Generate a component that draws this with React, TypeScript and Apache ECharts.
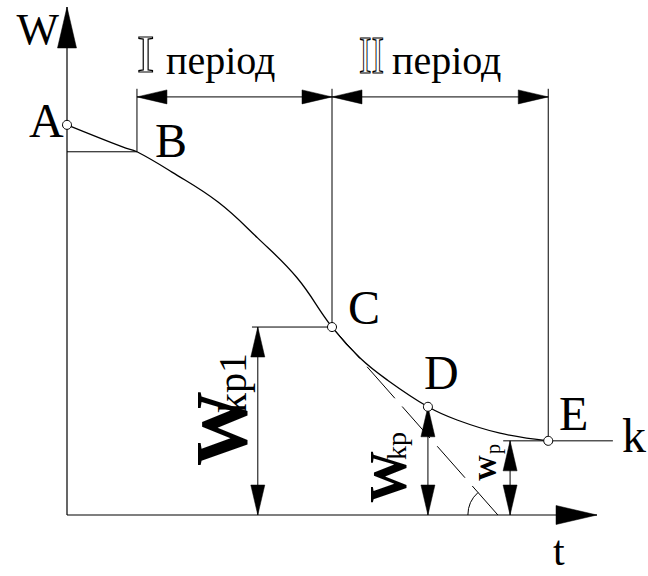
import React, { useEffect, useRef } from 'react';
import * as echarts from 'echarts';

// ---- data (t = time, W = moisture content; arbitrary units) ----
const T_MAX = 10;
const W_MAX = 10;

// drying curve A - B - C - D - E
const curveT = [0, 1.06, 1.32, 1.98, 2.85, 3.6, 4.34, 5.0, 5.53, 6.04, 6.81, 7.36, 8.17, 9.08];
const curveW = [7.68, 7.24, 7.15, 6.75, 6.16, 5.45, 4.67, 3.7, 3.09, 2.66, 2.13, 1.87, 1.61, 1.46];

// marked points (circles)
const pointNames = ['A', 'C', 'D', 'E'];
const pointT = [0, 5.0, 6.81, 9.08];
const pointW = [7.68, 3.7, 2.13, 1.46];

// dimension lines with arrows at both ends: [t1, W1, t2, W2]
const dimensionSegments = [
  [1.32, 8.23, 5.0, 8.23], // I period
  [5.0, 8.23, 9.08, 8.23], // II period
  [3.6, 3.7, 3.6, 0], // Wkp1
  [6.81, 2.13, 6.81, 0], // Wkp
  [8.36, 1.46, 8.36, 0], // Wp
];

// plain extension lines: [t1, W1, t2, W2]
const extensionSegments = [
  [1.32, 7.15, 1.32, 8.39],
  [5.0, 3.7, 5.0, 8.39],
  [9.08, 1.46, 9.08, 8.39],
  [0, 7.15, 1.32, 7.15],
  [3.49, 3.7, 5.0, 3.7],
  [8.23, 1.46, 9.08, 1.46],
  [9.08, 1.46, 10.3, 1.46],
];

// axes with arrow at the far end
const axisSegments = [
  [0, 0, T_MAX, 0],
  [0, 0, 0, W_MAX],
];

// tangent at C, reaching the t axis
const tangentSegments = [[5.0, 3.7, 8.13, 0]];

const SERIF = 'Liberation Serif, Times New Roman, DejaVu Serif, Noto Serif, serif';

function arrowHead(tip: number[], from: number[], len: number, hw: number) {
  const dx = tip[0] - from[0];
  const dy = tip[1] - from[1];
  const L = Math.hypot(dx, dy) || 1;
  const ux = dx / L;
  const uy = dy / L;
  const bx = tip[0] - ux * len;
  const by = tip[1] - uy * len;
  return [
    [tip[0], tip[1]],
    [bx - uy * hw, by + ux * hw],
    [bx + uy * hw, by - ux * hw],
  ];
}

function segmentSeries(
  name: string,
  data: number[][],
  opts: { startArrow?: boolean; endArrow?: boolean; len?: number; hw?: number; dash?: number[]; width?: number; z?: number }
) {
  return {
    type: 'custom',
    name,
    coordinateSystem: 'cartesian2d',
    clip: false,
    z: opts.z ?? 2,
    encode: { x: [0, 2], y: [1, 3] },
    data,
    renderItem: (params: any, api: any) => {
      const p1 = api.coord([api.value(0), api.value(1)]);
      const p2 = api.coord([api.value(2), api.value(3)]);
      const children: any[] = [
        {
          type: 'line',
          shape: { x1: p1[0], y1: p1[1], x2: p2[0], y2: p2[1] },
          style: {
            stroke: '#000',
            lineWidth: opts.width ?? 1,
            lineDash: opts.dash,
            fill: null,
          },
        },
      ];
      const len = opts.len ?? 30;
      const hw = opts.hw ?? 7;
      if (opts.startArrow) {
        children.push({ type: 'polygon', shape: { points: arrowHead(p1, p2, len, hw) }, style: { fill: '#000', stroke: '#000', lineWidth: 0.5 } });
      }
      if (opts.endArrow) {
        children.push({ type: 'polygon', shape: { points: arrowHead(p2, p1, len, hw) }, style: { fill: '#000', stroke: '#000', lineWidth: 0.5 } });
      }
      return { type: 'group', children };
    },
  };
}

function label(text: string, x: number, baseline: number, fs: number, extra: any = {}) {
  return {
    type: 'text',
    x,
    y: baseline - 0.31 * fs,
    z: 10,
    scaleX: extra.scaleX ?? 1,
    style: {
      text,
      fontSize: fs,
      fontFamily: SERIF,
      fontWeight: extra.weight ?? 'normal',
      fill: extra.fill ?? '#000',
      stroke: extra.stroke,
      lineWidth: extra.lineWidth,
      textAlign: extra.align ?? 'left',
      textVerticalAlign: 'middle',
    },
  };
}

function rotLabel(text: string, baselineX: number, startY: number, fs: number, weight = 'normal') {
  return {
    type: 'text',
    x: baselineX - 0.31 * fs,
    y: startY,
    rotation: Math.PI / 2,
    z: 10,
    style: {
      text,
      fontSize: fs,
      fontFamily: SERIF,
      fontWeight: weight,
      fill: '#000',
      textAlign: 'left',
      textVerticalAlign: 'middle',
    },
  };
}

export default function App() {
  const ref = useRef<HTMLDivElement>(null);

  useEffect(() => {
    if (!ref.current) return;
    const chart = echarts.init(ref.current, null, { renderer: 'svg' });

    const option: any = {
      animation: false,
      backgroundColor: '#fff',
      grid: { left: 67, top: 7, width: 530, height: 508 },
      xAxis: { type: 'value', min: 0, max: T_MAX, show: false },
      yAxis: { type: 'value', min: 0, max: W_MAX, show: false },
      series: [
        segmentSeries('axes', axisSegments, { endArrow: true, len: 41, hw: 9.5, width: 1.2, z: 2 }),
        segmentSeries('extensions', extensionSegments, { width: 1, z: 2 }),
        segmentSeries('dimensions', dimensionSegments, { startArrow: true, endArrow: true, len: 30, hw: 7, width: 1, z: 2 }),
        segmentSeries('tangent', tangentSegments, { dash: [42, 11], width: 1, z: 2 }),
        {
          type: 'custom',
          name: 'angle',
          coordinateSystem: 'cartesian2d',
          clip: false,
          z: 2,
          encode: { x: [0, 2], y: [1, 3] },
          data: tangentSegments,
          renderItem: (params: any, api: any) => {
            const c = api.coord([api.value(0), api.value(1)]);
            const o = api.coord([api.value(2), api.value(3)]);
            let a = Math.atan2(c[1] - o[1], c[0] - o[0]);
            if (a < 0) a += Math.PI * 2;
            return {
              type: 'arc',
              shape: { cx: o[0], cy: o[1], r: 30, startAngle: Math.PI, endAngle: a, clockwise: true },
              style: { stroke: '#000', lineWidth: 1, fill: null },
            };
          },
        },
        {
          type: 'line',
          name: 'curve',
          data: curveT.map((t, i) => [t, curveW[i]]),
          smooth: 0.4,
          symbol: 'none',
          clip: false,
          z: 3,
          lineStyle: { color: '#000', width: 1.3 },
        },
        {
          type: 'scatter',
          name: 'points',
          data: pointT.map((t, i) => ({ name: pointNames[i], value: [t, pointW[i]] })),
          symbol: 'circle',
          symbolSize: 9,
          clip: false,
          z: 5,
          itemStyle: { color: '#fff', borderColor: '#000', borderWidth: 1, opacity: 1 },
        },
      ],
      graphic: [
        label('W', 59, 43, 45, { align: 'right' }),
        label('t', 553, 564, 42),
        label('A', 29, 135, 48),
        label('B', 155, 155, 48),
        label('C', 348, 322, 48),
        label('D', 424, 387, 48),
        label('E', 559, 428, 48),
        label('k', 622, 450, 48),
        label('I', 137, 71, 52, { fill: 'none', stroke: '#000', lineWidth: 1.2 }),
        label('період', 166, 73, 40),
        label('II', 359, 72, 52, { fill: 'none', stroke: '#000', lineWidth: 1.2, scaleX: 0.72 }),
        label('період', 392, 73, 40),
        rotLabel('W', 245, 466, 75, 'bold'),
        rotLabel('kp1', 245, 413, 40),
        rotLabel('W', 405, 503, 52, 'bold'),
        rotLabel('kp', 405, 460, 28),
        rotLabel('W', 496, 481, 26, 'bold'),
        rotLabel('p', 499, 454, 20),
      ],
    };

    chart.setOption(option);
    return () => chart.dispose();
  }, []);

  return (
    <div
      ref={ref}
      style={{ position: 'fixed', left: 0, top: 0, width: 648, height: 576, background: '#fff' }}
    />
  );
}
